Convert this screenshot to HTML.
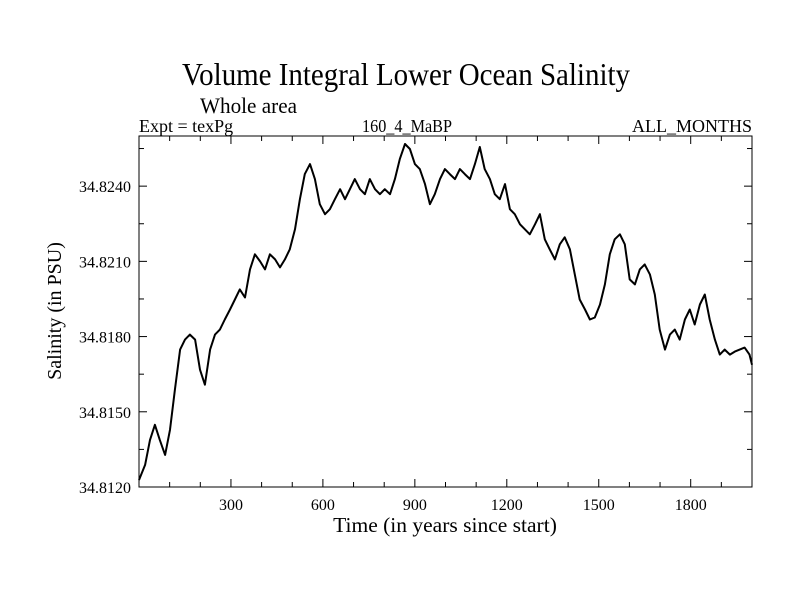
<!DOCTYPE html>
<html><head><meta charset="utf-8"><style>
body{margin:0;background:#fff}
svg text{font-family:"Liberation Serif",serif;fill:#000}
</style></head><body>
<svg width="800" height="600" xmlns="http://www.w3.org/2000/svg">
<rect width="800" height="600" fill="#fff"/>
<text x="182" y="85" font-size="32" textLength="448" lengthAdjust="spacingAndGlyphs">Volume Integral Lower Ocean Salinity</text>
<text x="200" y="113" font-size="22" textLength="97" lengthAdjust="spacingAndGlyphs">Whole area</text>
<text x="139" y="132" font-size="18">Expt = texPg</text>
<text x="362" y="132" font-size="18" textLength="90" lengthAdjust="spacingAndGlyphs">160_4_MaBP</text>
<text x="752" y="132" font-size="18" text-anchor="end">ALL_MONTHS</text>
<g id="axes"></g>
<text x="445" y="532" font-size="21.5" text-anchor="middle">Time (in years since start)</text>
<text x="0" y="0" font-size="20" text-anchor="middle" transform="translate(61,311) rotate(-90)">Salinity (in PSU)</text>
</svg>
<script>
const years=[0,20,36,52,68,85,101,117,134,150,166,183,199,215,232,248,264,280,297,313,329,346,362,378,395,411,427,444,460,476,492,509,525,541,558,574,590,607,623,639,656,672,688,704,721,737,753,770,786,802,819,835,851,868,884,900,916,933,949,965,982,998,1014,1031,1047,1063,1080,1096,1112,1128,1145,1161,1177,1194,1210,1226,1243,1259,1275,1292,1308,1324,1340,1357,1373,1389,1406,1422,1438,1455,1471,1487,1504,1520,1536,1552,1569,1585,1601,1618,1634,1650,1667,1683,1699,1716,1732,1748,1764,1781,1797,1813,1830,1846,1862,1879,1895,1911,1928,1944,1960,1976,1992,2000];
const salinity=[34.81228,34.81288,34.81388,34.81448,34.81388,34.81328,34.81428,34.81588,34.81748,34.81788,34.81808,34.81788,34.81668,34.81608,34.81748,34.81808,34.81828,34.81868,34.81908,34.81948,34.81988,34.81956,34.82068,34.82128,34.82100,34.82068,34.82128,34.82108,34.82076,34.82108,34.82148,34.82228,34.82348,34.82448,34.82488,34.82428,34.82328,34.82288,34.82308,34.82348,34.82388,34.82348,34.82388,34.82428,34.82388,34.82368,34.82428,34.82388,34.82368,34.82388,34.82368,34.82428,34.82508,34.82568,34.82548,34.82488,34.82468,34.82408,34.82328,34.82368,34.82428,34.82468,34.82448,34.82428,34.82468,34.82448,34.82428,34.82488,34.82556,34.82468,34.82428,34.82368,34.82348,34.82408,34.82308,34.82288,34.82248,34.82228,34.82208,34.82248,34.82288,34.82188,34.82148,34.82108,34.82168,34.82196,34.82148,34.82048,34.81948,34.81908,34.81868,34.81876,34.81928,34.82008,34.82128,34.82188,34.82208,34.82168,34.82028,34.82008,34.82068,34.82088,34.82048,34.81968,34.81828,34.81748,34.81808,34.81828,34.81788,34.81868,34.81908,34.81848,34.81928,34.81968,34.81868,34.81788,34.81728,34.81748,34.81728,34.81740,34.81748,34.81756,34.81728,34.81688];
const xTicks=[300,600,900,1200,1500,1800];
const yTicks=[34.8120,34.8150,34.8180,34.8210,34.8240];
const yTickLabels=["34.8120","34.8150","34.8180","34.8210","34.8240"];
const X0=139,X1=752,Y0=487,Y1=136,XMIN=0,XMAX=2000,YMIN=34.8120,YMAX=34.8260;
const sx=v=>X0+(v-XMIN)/(XMAX-XMIN)*(X1-X0);
const sy=v=>Y0-(v-YMIN)/(YMAX-YMIN)*(Y0-Y1);
const NS="http://www.w3.org/2000/svg";
const g=document.getElementById('axes');
function mk(t,a){const e=document.createElementNS(NS,t);for(const k in a)e.setAttribute(k,a[k]);g.appendChild(e);return e;}
const frame=mk('rect',{x:X0,y:Y1,width:X1-X0,height:Y0-Y1,fill:'none',stroke:'#000','stroke-width':1});


for(let v=100;v<XMAX;v+=100){const big=v%300===0;const L=big?8:5;
 const t1=mk('line',{x1:sx(v),x2:sx(v),y1:Y0,y2:Y0-L,stroke:'#000'});
 
 
 const t2=mk('line',{x1:sx(v),x2:sx(v),y1:Y1,y2:Y1+L,stroke:'#000'});
 
 }
xTicks.forEach(v=>{const t=mk('text',{x:sx(v),y:Y0+23,'font-size':16,'text-anchor':'middle'});t.textContent=String(v);
 
 });
for(let i=1;i<10;i++){const v=YMIN+i*0.0015;const big=i%2===0;const L=big?8:5;
 const t1=mk('line',{x1:X0,x2:X0+L,y1:sy(v),y2:sy(v),stroke:'#000'});
 
 
 const t2=mk('line',{x1:X1,x2:X1-L,y1:sy(v),y2:sy(v),stroke:'#000'});
 
 }
yTicks.forEach((v,i)=>{const t=mk('text',{x:X0-8,y:sy(v)+6,'font-size':16,'text-anchor':'end'});t.textContent=yTickLabels[i];
 
 });
const n=Math.min(years.length,salinity.length);
let d='';for(let i=0;i<n;i++)d+=(i?'L':'M')+sx(years[i]).toFixed(1)+','+sy(salinity[i]).toFixed(1);
const line=mk('path',{d:d,fill:'none',stroke:'#000','stroke-width':2,'stroke-linejoin':'round'});


</script>
</body></html>
